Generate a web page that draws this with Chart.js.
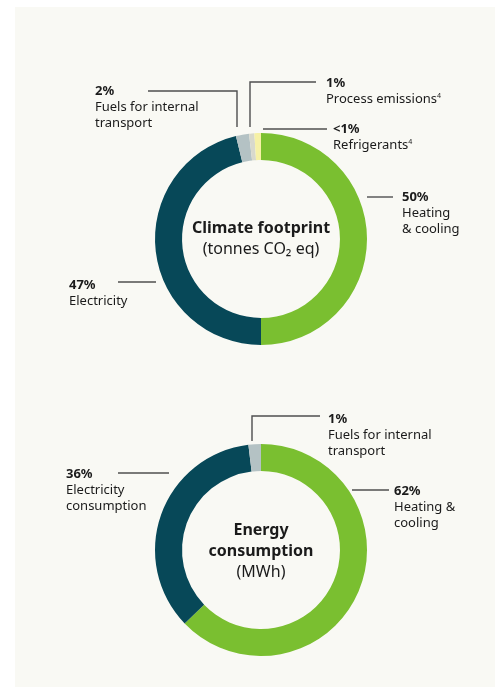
<!DOCTYPE html>
<html>
<head>
<meta charset="utf-8">
<script src="https://cdn.jsdelivr.net/npm/chart.js@4"></script>
<style>
  body { margin: 0; background: #fff; width: 495px; height: 688px; overflow: hidden; font-family: "Noto Sans", "Open Sans", sans-serif; color: #1b1b1b; }
  .panel { position: absolute; left: 15px; top: 7px; width: 480px; height: 680px; background: #f9f9f4; }
  canvas { position: absolute; left: 0; }
  .lbl { position: absolute; font-size: 13px; line-height: 16px; white-space: nowrap; }
  .lbl b { font-weight: 700; }
  .lbl sup { font-size: 7px; vertical-align: 5px; line-height: 0; }
  .ctr { position: absolute; left: 161px; width: 200px; text-align: center; font-size: 16px; line-height: 21px; }
  .ctr b { font-weight: 700; }
</style>
</head>
<body>
<div class="panel"></div>
<canvas id="climate" width="495" height="360" style="top:0"></canvas>
<canvas id="energy" width="495" height="328" style="top:360px"></canvas>

<div class="lbl" style="left:95px; top:82px"><b>2%</b><br>Fuels for internal<br>transport</div>
<div class="lbl" style="left:326px; top:74px"><b>1%</b><br>Process emissions<sup>4</sup></div>
<div class="lbl" style="left:333px; top:120px"><b>&lt;1%</b><br>Refrigerants<sup>4</sup></div>
<div class="lbl" style="left:402px; top:188px"><b>50%</b><br>Heating<br>&amp; cooling</div>
<div class="lbl" style="left:69px; top:276px"><b>47%</b><br>Electricity</div>
<div class="ctr" style="top:217px"><b>Climate footprint</b><br>(tonnes CO₂ eq)</div>

<div class="lbl" style="left:328px; top:410px"><b>1%</b><br>Fuels for internal<br>transport</div>
<div class="lbl" style="left:66px; top:465px"><b>36%</b><br>Electricity<br>consumption</div>
<div class="lbl" style="left:394px; top:482px"><b>62%</b><br>Heating &amp;<br>cooling</div>
<div class="ctr" style="top:519px"><b>Energy<br>consumption</b><br>(MWh)</div>

<script>
// data
const climateLabels = ['Heating & cooling', 'Electricity', 'Fuels for internal transport', 'Process emissions', 'Refrigerants'];
const climateValues = [50, 46.2, 2.0, 0.8, 1.0];
const climateColors = ['#7abf30', '#074858', '#b4c2c4', '#d8d9cc', '#f6f1a6'];

const energyLabels = ['Heating & cooling', 'Electricity consumption', 'Fuels for internal transport'];
const energyValues = [62.8, 35.3, 1.9];
const energyColors = ['#7abf30', '#074858', '#b4c2c4'];

// leader lines, drawn on top of the canvas
const leaders = {
    id: 'leaders',
    afterDraw(chart, args, opts) {
        const ctx = chart.ctx;
        ctx.save();
        ctx.strokeStyle = '#4f4f4f';
        ctx.lineWidth = 1.4;
        opts.lines.forEach(pts => {
            ctx.beginPath();
            ctx.moveTo(pts[0][0], pts[0][1]);
            for (let i = 1; i < pts.length; i++) ctx.lineTo(pts[i][0], pts[i][1]);
            ctx.stroke();
        });
        ctx.restore();
    }
};

function donut(id, labels, values, colors, padding, lines) {
    return new Chart(document.getElementById(id), {
        type: 'doughnut',
        data: {
            labels: labels,
            datasets: [{
                data: values,
                backgroundColor: colors,
                borderWidth: 0
            }]
        },
        options: {
            responsive: false,
            animation: false,
            cutout: '74.5%',
            layout: { padding: padding },
            plugins: {
                legend: { display: false },
                tooltip: { enabled: false },
                leaders: { lines: lines }
            }
        },
        plugins: [leaders]
    });
}

let climateChart = donut('climate', climateLabels, climateValues, climateColors,
    { left: 155, right: 128, top: 133, bottom: 15 },
    [
        [[148, 91], [237, 91], [237, 127]],
        [[316, 82], [250, 82], [250, 127]],
        [[263, 129], [327, 129]],
        [[367, 197], [393, 197]],
        [[118, 282], [156, 282]]
    ]);

let energyChart = donut('energy', energyLabels, energyValues, energyColors,
    { left: 155, right: 128, top: 84, bottom: 32 },
    [
        [[320, 56], [252, 56], [252, 81]],
        [[118, 113], [169, 113]],
        [[352, 130], [389, 130]]
    ]);
</script>
</body>
</html>
